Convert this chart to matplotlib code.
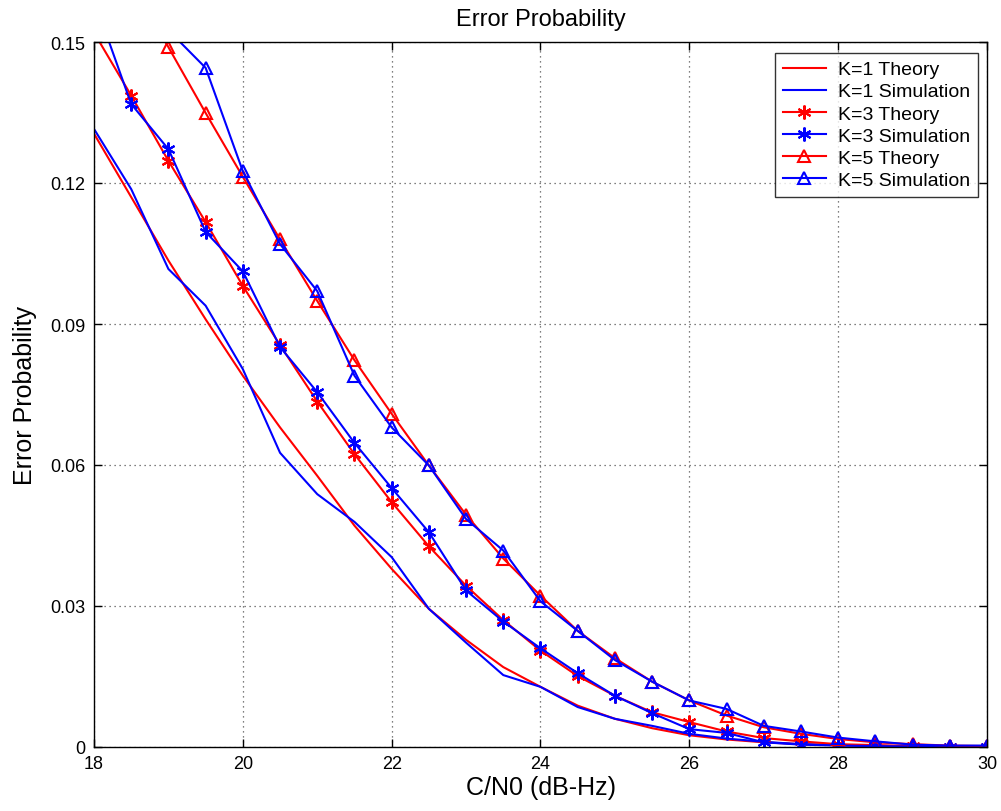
import matplotlib
matplotlib.use("Agg")
import matplotlib.pyplot as plt
import numpy as np

snr = [18, 18.5, 19, 19.5, 20, 20.5, 21, 21.5, 22, 22.5, 23, 23.5, 24,
       24.5, 25, 25.5, 26, 26.5, 27, 27.5, 28, 28.5, 29, 29.5, 30]

k1_theory = [0.1305, 0.117, 0.1035, 0.091, 0.079, 0.068, 0.0577, 0.0471, 0.0379,
             0.0294, 0.0228, 0.017, 0.0128, 0.0088, 0.006, 0.004, 0.0025, 0.0016,
             0.001, 0.0006, 0.0004, 0.0002, 0.0001, 0.0001, 0.00005]
k1_sim = [0.1315, 0.1187, 0.1017, 0.0939, 0.0804, 0.0626, 0.0538, 0.0479, 0.0404,
          0.0294, 0.0222, 0.0153, 0.0128, 0.0085, 0.006, 0.0045, 0.0028, 0.0018,
          0.0011, 0.0006, 0.0004, 0.0003, 0.0001, 0.0001, 0.0]
k3_theory = [0.152, 0.1386, 0.1247, 0.1117, 0.0981, 0.0855, 0.0735, 0.0623, 0.0521,
             0.0427, 0.0343, 0.027, 0.0205, 0.0151, 0.0109, 0.0074, 0.0053, 0.0033,
             0.0019, 0.0012, 0.0006, 0.0004, 0.0002, 0.0001, 0.0001]
k3_sim = [0.159, 0.1368, 0.1272, 0.1096, 0.1012, 0.0851, 0.0755, 0.0647, 0.0551,
          0.0457, 0.0333, 0.0267, 0.021, 0.0157, 0.0109, 0.0072, 0.0038, 0.003,
          0.001, 0.0005, 0.0003, 0.0002, 0.0001, 0.0, 0.0]
k5_theory = [0.178, 0.163, 0.1489, 0.1349, 0.1213, 0.108, 0.0949, 0.0823, 0.0709,
             0.0599, 0.0494, 0.0401, 0.0322, 0.0247, 0.0189, 0.0139, 0.0099, 0.0067,
             0.0042, 0.0028, 0.0017, 0.001, 0.0006, 0.0003, 0.0002]
k5_sim = [0.19, 0.17, 0.1525, 0.1445, 0.1225, 0.107, 0.097, 0.079, 0.068,
          0.0599, 0.0485, 0.0418, 0.031, 0.0247, 0.0185, 0.0139, 0.0099, 0.0081,
          0.0045, 0.0033, 0.002, 0.0012, 0.0005, 0.0003, 0.0003]

labels = ["K=1 Theory", "K=1 Simulation", "K=3 Theory", "K=3 Simulation",
          "K=5 Theory", "K=5 Simulation"]
xticks = [18, 20, 22, 24, 26, 28, 30]
yticks = [0, 0.03, 0.06, 0.09, 0.12, 0.15]
ytick_labels = ["0", "0.03", "0.06", "0.09", "0.12", "0.15"]

plt.rcParams['font.family'] = ['Liberation Sans', 'DejaVu Sans']

fig = plt.figure(figsize=(10.01, 8.12), dpi=100)
ax = fig.add_axes([94/1001, 1-748/812, (987-94)/1001, (748-43)/812])

RED = '#ff0000'
BLUE = '#0000ff'
ast = (6, 2, 0)
lw = 1.5
series = [
    (k1_theory, RED, None),
    (k1_sim, BLUE, None),
    (k3_theory, RED, ast),
    (k3_sim, BLUE, ast),
    (k5_theory, RED, '^'),
    (k5_sim, BLUE, '^'),
]
for (vals, col, mk), lab in zip(series, labels):
    kw = dict(color=col, lw=lw, label=lab)
    if mk == '^':
        kw.update(marker='^', markersize=9, markerfacecolor='none',
                  markeredgecolor=col, markeredgewidth=1.5)
    elif mk is not None:
        kw.update(marker=mk, markersize=10, markeredgecolor=col,
                  markeredgewidth=1.5)
    ax.plot(snr, vals, **kw)

ax.set_xlim(18, 30)
ax.set_ylim(0, 0.15)
ax.set_xticks(xticks)
ax.set_yticks(yticks)
ax.set_yticklabels(ytick_labels)
ax.grid(True, color='#555555', linestyle=(0, (1, 3)), linewidth=0.9)
ax.tick_params(direction='in', length=6, width=1, top=True, right=True,
               labelsize=13, pad=6, colors='black')
for s in ax.spines.values():
    s.set_linewidth(1)
    s.set_color('black')

ax.set_title("Error Probability", fontsize=17, pad=12,
             family=['Liberation Sans Narrow', 'Liberation Sans', 'DejaVu Sans'])
ax.set_xlabel("C/N0 (dB-Hz)", fontsize=18, labelpad=2)
ax.set_ylabel("Error Probability", fontsize=18, labelpad=10)

leg = ax.legend(loc='upper right', bbox_to_anchor=(0.99, 0.985), borderaxespad=0,
                fontsize=14, frameon=True, fancybox=False, numpoints=1,
                handlelength=2.2, handletextpad=0.62, labelspacing=0.23,
                borderpad=0.42)
leg.get_frame().set_edgecolor('black')
leg.get_frame().set_linewidth(1)

fig.savefig("out.png", dpi=100)
